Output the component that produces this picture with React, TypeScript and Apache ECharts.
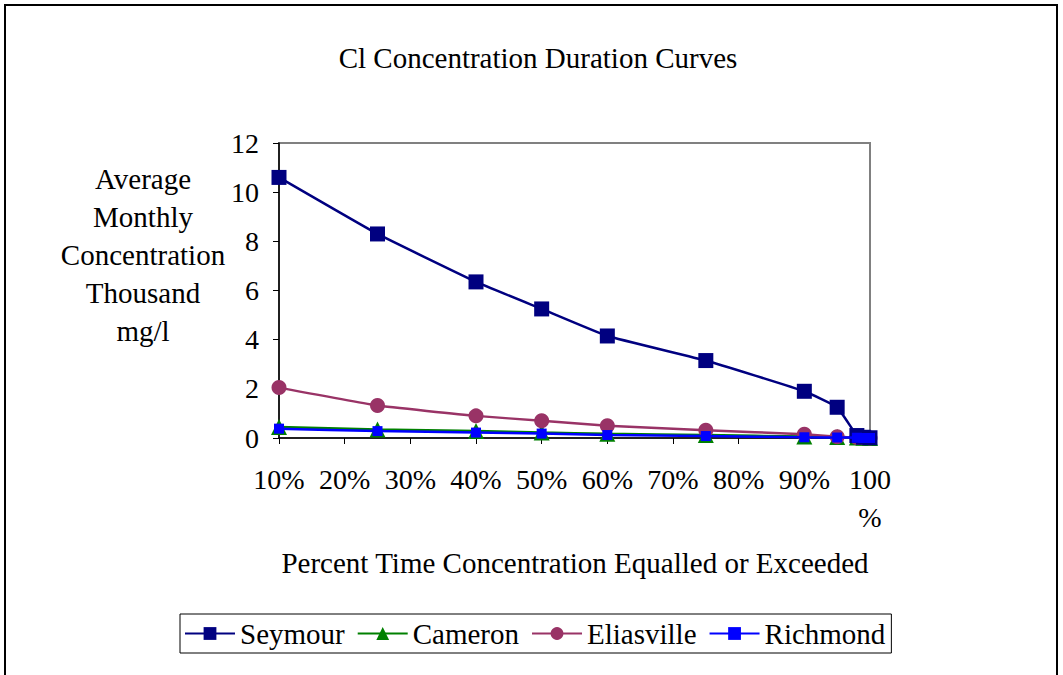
import React, { useEffect, useRef } from "react";
import * as echarts from "echarts";

const percentTime = [10, 25, 40, 50, 60, 75, 90, 95, 98, 99, 100];
const seymour = [10.6, 8.3, 6.35, 5.25, 4.15, 3.15, 1.9, 1.25, 0.1, 0.03, 0.01];
const cameron = [0.45, 0.35, 0.28, 0.22, 0.17, 0.12, 0.06, 0.04, 0.02, 0.01, 0.0];
const eliasville = [2.05, 1.32, 0.9, 0.7, 0.5, 0.32, 0.15, 0.05, 0.02, 0.01, 0.0];
const richmond = [0.38, 0.28, 0.22, 0.18, 0.12, 0.08, 0.03, 0.02, 0.01, 0.0, 0.0];

const titleText = "Cl Concentration Duration Curves";
const yTitleLines = ["Average", "Monthly", "Concentration", "Thousand", "mg/l"];
const xTitleText = "Percent Time Concentration Equalled or Exceeded";

const FONT = "Liberation Serif, Times New Roman, serif";

function pairs(ys: number[]) {
  return percentTime.map((x, i) => [x, ys[i]]);
}

export default function App() {
  const ref = useRef<HTMLDivElement>(null);
  useEffect(() => {
    const chart = echarts.init(ref.current!, null, { renderer: "svg" });
    const fs = 29;
    const tfs = 28;
    chart.setOption({
      animation: false,
      backgroundColor: "#ffffff",
      textStyle: { fontFamily: FONT },
      grid: {
        left: 279,
        top: 143,
        width: 591,
        height: 295,
        show: true,
        borderColor: "#808080",
        borderWidth: 2,
        backgroundColor: "#ffffff",
      },
      xAxis: {
        type: "value",
        min: 10,
        max: 100,
        interval: 10,
        axisLine: { show: true, onZero: false, lineStyle: { color: "#000", width: 1.5 } },
        axisTick: { show: true, inside: false, length: 6, lineStyle: { color: "#000" } },
        splitLine: { show: false },
        axisLabel: {
          color: "#000",
          fontFamily: FONT,
          fontSize: tfs,
          margin: 22,
          lineHeight: 38,
          verticalAlign: "top",
          formatter: (v: number) => (v === 100 ? "100\n%" : v + "%"),
        },
      },
      yAxis: {
        type: "value",
        min: 0,
        max: 12,
        interval: 2,
        axisLine: { show: true, lineStyle: { color: "#000", width: 1.5 } },
        axisTick: { show: true, inside: false, length: 6, lineStyle: { color: "#000" } },
        splitLine: { show: false },
        axisLabel: { color: "#000", fontFamily: FONT, fontSize: tfs, margin: 20 },
      },
      legend: {
        left: 180,
        top: 614,
        orient: "horizontal",
        borderColor: "#000",
        borderWidth: 1,
        padding: [5, 6, 5, 4],
        itemGap: 12,
        itemWidth: 50,
        itemHeight: 16,
        textStyle: { color: "#000", fontFamily: FONT, fontSize: fs },
        data: ["Seymour", "Cameron", "Eliasville", "Richmond"],
      },
      graphic: [
        {
          type: "rect",
          shape: { x: 5, y: 5, width: 1052, height: 720 },
          style: { fill: "none", stroke: "#000", lineWidth: 2 },
          silent: true,
          z: -10,
        },
        {
          type: "text",
          x: 538,
          y: 58,
          style: {
            text: titleText,
            fontFamily: FONT,
            fontSize: fs,
            fill: "#000",
            textAlign: "center",
            textVerticalAlign: "middle",
          },
        },
        {
          type: "text",
          x: 143,
          y: 255,
          style: {
            text: yTitleLines.join("\n"),
            fontFamily: FONT,
            fontSize: fs,
            lineHeight: 38,
            fill: "#000",
            textAlign: "center",
            textVerticalAlign: "middle",
          },
        },
        {
          type: "text",
          x: 575,
          y: 563,
          style: {
            text: xTitleText,
            fontFamily: FONT,
            fontSize: fs,
            fill: "#000",
            textAlign: "center",
            textVerticalAlign: "middle",
          },
        },
      ],
      series: [
        {
          name: "Seymour",
          type: "line",
          data: pairs(seymour),
          smooth: 0.1,
          symbol: "rect",
          symbolSize: 15,
          color: "#000080",
          lineStyle: { color: "#000080", width: 2.5 },
          itemStyle: { color: "#000080" },
          z: 4,
        },
        {
          name: "Cameron",
          type: "line",
          data: pairs(cameron),
          smooth: 0.1,
          symbol: "triangle",
          symbolSize: 16,
          color: "#008000",
          lineStyle: { color: "#008000", width: 2.5 },
          itemStyle: { color: "#008000" },
          z: 2,
        },
        {
          name: "Eliasville",
          type: "line",
          data: pairs(eliasville),
          smooth: 0.1,
          symbol: "circle",
          symbolSize: 15,
          color: "#993366",
          lineStyle: { color: "#993366", width: 2.5 },
          itemStyle: { color: "#993366" },
          z: 3,
        },
        {
          name: "Richmond",
          type: "line",
          data: pairs(richmond),
          smooth: 0.1,
          symbol: "rect",
          symbolSize: 10,
          color: "#0000FF",
          lineStyle: { color: "#0000FF", width: 2.5 },
          itemStyle: { color: "#0000FF" },
          z: 5,
        },
      ],
    });
    return () => chart.dispose();
  }, []);
  return (
    <div
      ref={ref}
      style={{ position: "fixed", left: 0, top: 0, width: 1063, height: 675 }}
    />
  );
}
